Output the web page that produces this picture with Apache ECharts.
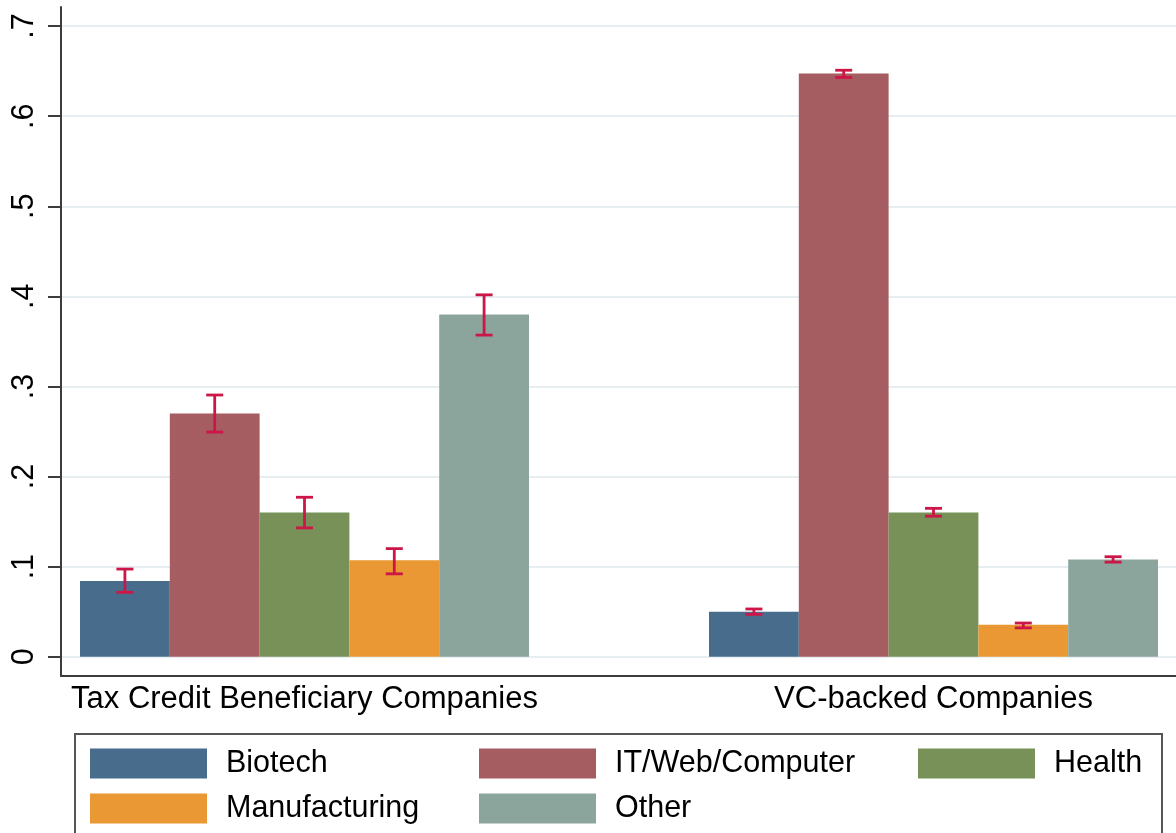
<!DOCTYPE html>
<html>
<head>
<meta charset="utf-8">
<script src="https://cdn.jsdelivr.net/npm/echarts@6/dist/echarts.min.js"></script>
<style>
  html, body { margin: 0; padding: 0; background: #fff; }
  #chart { width: 1176px; height: 833px; }
</style>
</head>
<body>
<div id="chart"></div>
<script>
// ── Data ────────────────────────────────────────────────────────────────
const groups = ['Tax Credit Beneficiary Companies', 'VC-backed Companies'];
const industries = ['Biotech', 'IT/Web/Computer', 'Health', 'Manufacturing', 'Other'];

const biotech       = [0.084, 0.050];
const itWeb         = [0.270, 0.6475];
const health        = [0.160, 0.160];
const manufacturing = [0.107, 0.0355];
const other         = [0.380, 0.108];

// confidence interval ends, same order as groups
const biotechLo       = [0.0715, 0.047];
const biotechHi       = [0.0973, 0.053];
const itWebLo         = [0.2494, 0.643];
const itWebHi         = [0.2905, 0.651];
const healthLo        = [0.143, 0.156];
const healthHi        = [0.177, 0.1647];
const manufacturingLo = [0.092, 0.032];
const manufacturingHi = [0.120, 0.0374];
const otherLo         = [0.357, 0.105];
const otherHi         = [0.4017, 0.111];

const yTicks      = [0, 0.1, 0.2, 0.3, 0.4, 0.5, 0.6, 0.7];
const yTickLabels = ['0', '.1', '.2', '.3', '.4', '.5', '.6', '.7'];

// ── Style ────────────────────────────────────────────────────────────────
const FONT = '"Liberation Sans", Arial, Helvetica, sans-serif';
const COLORS = ['#486C8C', '#A65D62', '#779159', '#E99833', '#8BA59D'];
const CI_COLOR = '#CC1648';
const AXIS_COLOR = '#3c3c3c';
const Y_MIN = -0.0214, Y_MAX = 0.7212;   // plot region runs a little past 0 and .7
const GAP = 0.2862;                        // share of each category band left empty

const means = [biotech, itWeb, health, manufacturing, other];
const lows  = [biotechLo, itWebLo, healthLo, manufacturingLo, otherLo];
const highs = [biotechHi, itWebHi, healthHi, manufacturingHi, otherHi];

const chart = echarts.init(document.getElementById('chart'), null, { renderer: 'canvas' });

// grid 0 carries the visible y axis + bottom line, grid 1 carries the bars
// (its bands are wider than the visible area so the two groups sit where they should)
const grids = [
  { left: 61, right: 0, top: 7, bottom: 157, outerBoundsMode: 'none' },
  { left: -10, right: -72, top: 7, bottom: 157, outerBoundsMode: 'none' },
];

const barSeries = industries.map((name, i) => ({
  name,
  type: 'bar',
  xAxisIndex: 1,
  yAxisIndex: 1,
  data: means[i],
  barGap: 0,
  barCategoryGap: (GAP * 100) + '%',
  itemStyle: { color: COLORS[i] },
  emphasis: { disabled: true },
  z: 2,
}));

const ciSeries = industries.map((name, i) => ({
  name: name + ' CI',
  type: 'custom',
  xAxisIndex: 1,
  yAxisIndex: 1,
  z: 5,
  silent: true,
  data: groups.map((g, k) => [k, lows[i][k], highs[i][k]]),
  encode: { x: 0, y: [1, 2] },
  renderItem: function (params, api) {
    const center = api.coord([api.value(0), 0])[0];
    const band = api.size([1, 0])[0];
    const barW = band * (1 - GAP) / industries.length;
    const x = center + (i - 2) * barW;
    const yLo = api.coord([api.value(0), api.value(1)])[1];
    const yHi = api.coord([api.value(0), api.value(2)])[1];
    const cap = 8.5;
    const style = { stroke: CI_COLOR, lineWidth: 2.8 };
    return {
      type: 'group',
      children: [
        { type: 'line', shape: { x1: x, y1: yHi, x2: x, y2: yLo }, style },
        { type: 'line', shape: { x1: x - cap, y1: yHi, x2: x + cap, y2: yHi }, style },
        { type: 'line', shape: { x1: x - cap, y1: yLo, x2: x + cap, y2: yLo }, style },
      ],
    };
  },
}));

// one legend per column so the swatches line up like the original's grid
function legendColumn(names, left) {
  return {
    data: names,
    orient: 'vertical',
    left: left,
    top: 748,
    padding: 0,
    itemWidth: 117,
    itemHeight: 30,
    itemGap: 14,
    icon: 'rect',
    textStyle: {
      fontFamily: FONT, fontSize: 30.5, color: '#000',
      lineHeight: 20, padding: [10, 0, 0, 14],
    },
  };
}

chart.setOption({
  animation: false,
  backgroundColor: '#fff',
  grid: grids,
  xAxis: [
    {
      gridIndex: 0, type: 'value', min: 0, max: 1,
      axisLine: { show: true, onZero: false, lineStyle: { color: AXIS_COLOR, width: 2 } },
      axisTick: { show: false }, axisLabel: { show: false }, splitLine: { show: false },
    },
    {
      gridIndex: 1, type: 'category', data: groups,
      axisLine: { show: false }, axisTick: { show: false },
      axisLabel: { fontFamily: FONT, fontSize: 31, color: '#000', margin: 8 },
    },
  ],
  yAxis: [
    {
      gridIndex: 0, type: 'value', min: Y_MIN, max: Y_MAX,
      axisLine: { show: true, lineStyle: { color: AXIS_COLOR, width: 2 } },
      axisTick: { show: true, length: 13, customValues: yTicks, lineStyle: { color: AXIS_COLOR, width: 2 } },
      axisLabel: {
        customValues: yTicks,
        rotate: 90,
        margin: 21,
        fontFamily: FONT, fontSize: 30.5, color: '#000',
        formatter: (v) => yTickLabels[yTicks.findIndex((t) => Math.abs(t - v) < 1e-6)],
      },
      splitLine: { show: true, lineStyle: { color: '#E6EEF1', width: 2 } },
    },
    {
      gridIndex: 1, type: 'value', min: Y_MIN, max: Y_MAX, show: false,
      splitLine: { show: false },
    },
  ],
  legend: [
    legendColumn([industries[0], industries[3]], 90),
    legendColumn([industries[1], industries[4]], 479),
    legendColumn([industries[2]], 918),
  ],
  graphic: [
    {
      type: 'rect',
      shape: { x: 75, y: 734, width: 1087, height: 140 },
      style: { fill: 'none', stroke: '#555', lineWidth: 2 },
      silent: true,
    },
  ],
  series: barSeries.concat(ciSeries),
});
</script>
</body>
</html>
